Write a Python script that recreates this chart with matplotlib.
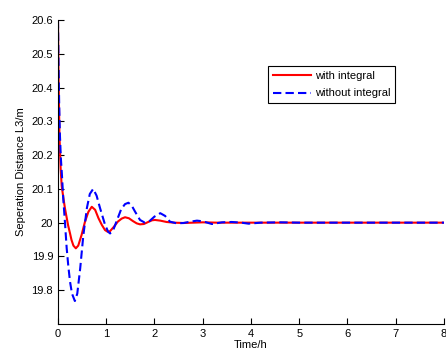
import matplotlib
matplotlib.use("Agg")
import matplotlib.pyplot as plt

# values
t_with = [0, 0.01, 0.03, 0.055, 0.077, 0.11, 0.145, 0.18, 0.21, 0.25, 0.28,
          0.32, 0.37, 0.42, 0.49, 0.56, 0.63, 0.70, 0.77, 0.84, 0.91, 0.975,
          1.03, 1.08, 1.16, 1.24, 1.32, 1.39, 1.47, 1.55, 1.63, 1.70, 1.78,
          1.87, 1.95, 2.01, 2.12, 2.25, 2.4, 2.6, 2.8, 3.0, 3.3, 3.6, 4.0,
          5.0, 6.0, 7.0, 8.0]
y_with = [20.6, 20.45, 20.26, 20.16, 20.109, 20.075, 20.042, 20.015, 19.992,
          19.968, 19.949, 19.932, 19.924, 19.932, 19.964, 20.003, 20.032,
          20.047, 20.038, 20.013, 19.993, 19.978, 19.973, 19.975, 19.988,
          20.003, 20.012, 20.016, 20.013, 20.005, 19.998, 19.995, 19.996,
          20.002, 20.007, 20.008, 20.006, 20.002, 20.0, 19.999, 20.0, 20.001,
          20.0, 20.0, 20.0, 20.0, 20.0, 20.0, 20.0]

t_without = [0, 0.01, 0.025, 0.04, 0.06, 0.08, 0.11, 0.145, 0.18, 0.215, 0.25,
             0.29, 0.35, 0.40, 0.46, 0.525, 0.6, 0.66, 0.73, 0.80, 0.87,
             0.975, 1.04, 1.08, 1.15, 1.23, 1.31, 1.39, 1.46, 1.53, 1.60,
             1.70, 1.80, 1.90, 2.0, 2.12, 2.22, 2.32, 2.46, 2.6, 2.75, 2.88,
             3.0, 3.19, 3.4, 3.6, 3.8, 3.95, 4.2, 4.6, 5.0, 6.0, 7.0, 8.0]
y_without = [20.6, 20.48, 20.35, 20.26, 20.19, 20.146, 20.07, 20.0, 19.925,
             19.87, 19.825, 19.79, 19.768, 19.79, 19.864, 19.962, 20.044,
             20.085, 20.1, 20.08, 20.044, 19.994, 19.973, 19.968, 19.98,
             20.01, 20.04, 20.055, 20.059, 20.05, 20.032, 20.008, 20.0,
             20.005, 20.018, 20.028, 20.02, 20.003, 19.998, 19.999, 20.003,
             20.006, 20.004, 19.996, 20.001, 20.002, 20.0, 19.997, 20.0,
             20.001, 20.0, 20.0, 20.0, 20.0]

x_ticks = [0, 1, 2, 3, 4, 5, 6, 7, 8]
y_ticks = [19.8, 19.9, 20.0, 20.1, 20.2, 20.3, 20.4, 20.5, 20.6]
y_tick_labels = ["19.8", "19.9", "20", "20.1", "20.2", "20.3", "20.4", "20.5", "20.6"]


def main():
    plt.rcParams["font.family"] = ["Liberation Sans", "DejaVu Sans"]
    fig = plt.figure(figsize=(4.46, 3.5), dpi=100)
    ax = fig.add_axes([0.130, 0.0743, 0.8655, 0.8686])

    ax.plot(t_with, y_with, color="red", linewidth=1.5, label="with integral")
    ax.plot(t_without, y_without, color="blue", linewidth=1.5,
            linestyle=(0, (4, 2)), label="without integral")

    ax.set_xlim(0, 8)
    ax.set_ylim(19.7, 20.6)
    ax.set_xticks(x_ticks)
    ax.set_yticks(y_ticks)
    ax.set_yticklabels(y_tick_labels)
    ax.tick_params(direction="in", length=4, labelsize=8, width=0.8)
    ax.spines["top"].set_visible(False)
    ax.spines["right"].set_visible(False)

    ax.set_xlabel("Time/h", fontsize=8, labelpad=0.5)
    ax.set_ylabel("Seperation Distance L3/m", fontsize=8, labelpad=4)

    leg = ax.legend(loc="upper left", bbox_to_anchor=(0.544, 0.848),
                    fontsize=8, fancybox=False, framealpha=1,
                    edgecolor="black", handlelength=3.4, borderpad=0.45,
                    labelspacing=0.65, handletextpad=0.35, borderaxespad=0)
    leg.get_frame().set_linewidth(0.8)

    plt.savefig("out.png", dpi=100)


if __name__ == "__main__":
    main()
